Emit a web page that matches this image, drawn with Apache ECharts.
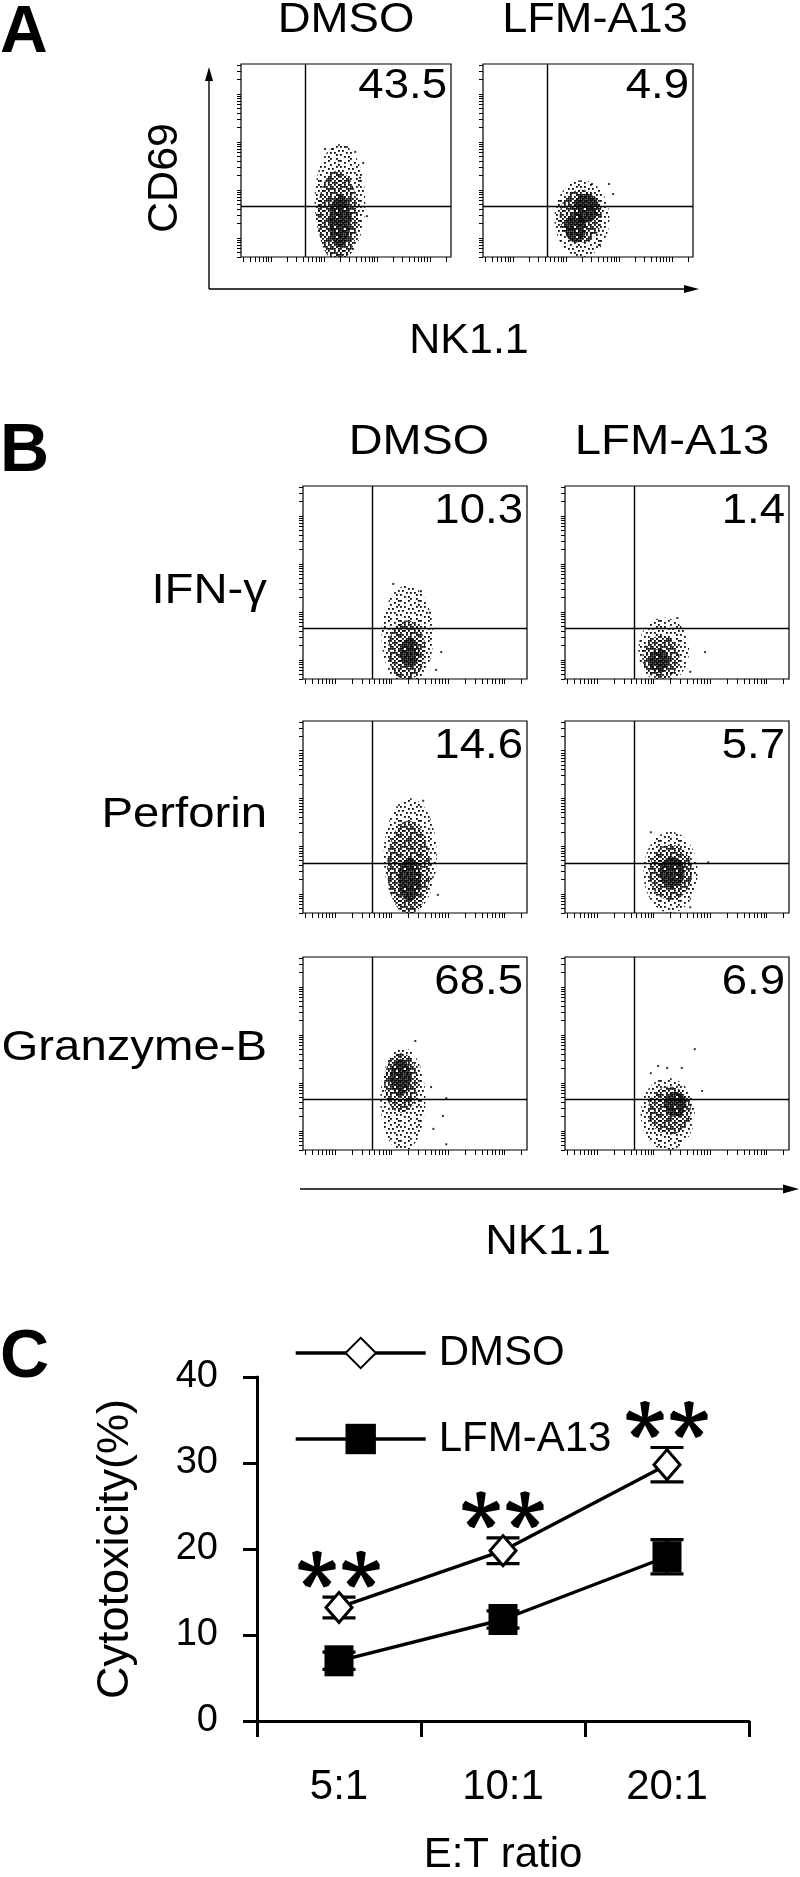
<!DOCTYPE html>
<html><head><meta charset="utf-8">
<script src="https://cdn.jsdelivr.net/npm/echarts@6/dist/echarts.min.js"></script>
<style>html,body{margin:0;padding:0;background:#fff}#c{width:800px;height:1877px}</style>
</head><body><div id="c"></div>
<script>
// ---------------- DATA ----------------
const groups = ['DMSO', 'LFM-A13'];
const markerA = 'CD69';
const rowLabels = ['IFN-γ', 'Perforin', 'Granzyme-B'];
const nkLabel = 'NK1.1';
const pctA = ['43.5', '4.9'];
const pctIFN = ['10.3', '1.4'];
const pctPerforin = ['14.6', '5.7'];
const pctGranzyme = ['68.5', '6.9'];
const gateX = 1.65, gateY = 1.65;          // quadrant gates (log10 units)
const logXRange = [0.43, 4.40];
const logYRange = [0.6, 4.62];
const decadeStarts = [0, 1, 2, 3, 4];
const minorMultipliers = [1, 2, 3, 4, 5, 6, 7, 8, 9];

// Event clouds: [centerX, centerY, spreadX, spreadY, densityLevel] (log10 units)
const cloudA_DMSO = [[2.30,1.75,0.48,1.20,0],[2.26,1.45,0.38,0.95,1],[2.30,1.35,0.20,0.55,2]];
const cloudA_LFM  = [[2.30,1.40,0.52,0.80,0],[2.28,1.45,0.40,0.55,1],[2.38,1.62,0.24,0.30,2],[2.18,1.20,0.20,0.30,2]];
const cloudIFN_DMSO = [[2.28,1.50,0.46,1.05,0],[2.27,1.20,0.33,0.62,1],[2.32,1.15,0.17,0.30,2]];
const cloudIFN_LFM  = [[2.18,1.20,0.45,0.68,0],[2.13,1.05,0.33,0.45,1],[2.10,0.98,0.17,0.25,2]];
const cloudPerf_DMSO = [[2.33,1.80,0.47,1.20,0],[2.30,1.55,0.38,0.98,1],[2.32,1.30,0.20,0.45,2]];
const cloudPerf_LFM  = [[2.30,1.45,0.48,0.85,0],[2.30,1.45,0.38,0.58,1],[2.33,1.45,0.22,0.33,2]];
const cloudGzm_DMSO = [[2.20,1.65,0.40,1.08,0],[2.17,2.00,0.30,0.62,1],[2.16,2.12,0.18,0.38,2]];
const cloudGzm_LFM  = [[2.25,1.35,0.48,0.75,0],[2.28,1.42,0.38,0.50,1],[2.38,1.55,0.20,0.26,2]];
// Scattered single events
const outA_DMSO = [[2.74,2.56],[2.81,1.45],[2.43,2.89],[2.02,2.85],[2.15,2.85],[2.59,2.79],[2.68,2.25]];
const outA_LFM  = [[2.81,2.12],[2.89,1.91],[2.64,0.85],[2.49,2.12]];
const outIFN_DMSO = [[2.52,2.43],[2.03,2.58],[2.88,1.16],[2.79,0.79],[2.68,1.98]];
const outIFN_LFM  = [[2.91,1.16],[2.42,1.87],[2.65,0.75]];
const outPerf_DMSO = [[2.56,2.95],[2.82,0.98],[2.73,1.35]];
const outPerf_LFM  = [[1.95,2.29],[2.97,1.66],[2.65,0.72]];
const outGzm_DMSO = [[2.42,2.87],[2.97,1.68],[2.91,1.31],[2.74,1.04],[2.97,0.72],[2.70,1.91]];
const outGzm_LFM  = [[2.73,2.70],[2.08,2.35],[2.24,2.31],[1.95,2.20],[2.50,2.31],[2.86,1.83]];

// Panel C
const etRatios = ['5:1', '10:1', '20:1'];
const dmsoMean = [13.2, 19.8, 29.8];
const dmsoErr  = [1.2, 1.5, 2.0];
const lfmMean  = [7.0, 11.8, 19.1];
const lfmErr   = [1.0, 1.0, 2.0];
const sigMarks = ['**', '**', '**'];

// ---------------- LAYOUT / STYLE ----------------
const FF = '"Liberation Sans", Arial, Helvetica, sans-serif';
const flowBoxes = [
  [241, 64, 210, 193], [483, 64, 210, 193],
  [303, 486, 224, 193], [565, 486, 224, 193],
  [303, 721, 224, 192], [565, 721, 224, 192],
  [303, 957, 224, 193], [565, 957, 224, 193]
];
const clouds = [cloudA_DMSO, cloudA_LFM, cloudIFN_DMSO, cloudIFN_LFM, cloudPerf_DMSO, cloudPerf_LFM, cloudGzm_DMSO, cloudGzm_LFM];
const outs = [outA_DMSO, outA_LFM, outIFN_DMSO, outIFN_LFM, outPerf_DMSO, outPerf_LFM, outGzm_DMSO, outGzm_LFM];
const pcts = [pctA[0], pctA[1], pctIFN[0], pctIFN[1], pctPerforin[0], pctPerforin[1], pctGranzyme[0], pctGranzyme[1]];

// stipple textures (dot masks)
const maskSparse = [
  "1...1....1","..1....1..",".....1...1","1.1.....1.","....1.1...",
  ".1.......1","...1.1.1..","1.......1.","..1.1.....",".....1..1."];
const maskMedium = [
  "1.11.1.1.1",".1..1.1.1.","1.1.1..1.1",".1.1.11.1.","1..1.1.1.1",
  ".11.1..1.1","1..1.11.1.",".1.1.1..11","1.1..1.1.1",".1.11.1.1."];
const maskDense = [
  "1111.11111","11.1111.11","1111.11111",".111111.11","11.1111111",
  "1111.111.1","111111.111","1.11111111","11111.11.1","111.111111"];
function makeTile(mask) {
  const cell = 2, n = mask.length;
  const cv = document.createElement('canvas');
  cv.width = cv.height = n * cell;
  const ctx = cv.getContext('2d');
  ctx.fillStyle = '#0a0a0a';
  mask.forEach((row, j) => { for (let i = 0; i < row.length; i++) if (row[i] === '1') ctx.fillRect(i * cell, j * cell, 1.8, 1.8); });
  return { image: cv, repeat: 'repeat' };
}
const patterns = [makeTile(maskSparse), makeTile(maskMedium), makeTile(maskDense)];

function logTicks(range) {
  const v = [];
  decadeStarts.forEach(d => minorMultipliers.forEach(m => {
    const t = d + Math.log10(m);
    if (t >= range[0] - 1e-9 && t <= range[1] + 1e-9) v.push(+t.toFixed(4));
  }));
  return v;
}

function blobRender(params, api) {
  const c = api.coord([api.value(0), api.value(1)]);
  const s = api.size([api.value(2), api.value(3)]);
  const lvl = api.value(4);
  const pts = [];
  const N = 60;
  for (let k = 0; k < N; k++) {
    const a = k / N * Math.PI * 2;
    pts.push([c[0] + s[0] * Math.cos(a), c[1] + s[1] * Math.sin(a)]);
  }
  return { type: 'polygon', shape: { points: pts }, style: { fill: patterns[lvl], stroke: null } };
}

// ---------------- BUILD ----------------
const grid = [], xAxis = [], yAxis = [], series = [], graphic = [];
flowBoxes.forEach((b, i) => {
  grid.push({ left: b[0], top: b[1], width: b[2], height: b[3], show: true, borderColor: '#000', borderWidth: 1.2, backgroundColor: 'transparent' });
  xAxis.push({ gridIndex: i, type: 'value', min: logXRange[0], max: logXRange[1],
    axisLine: { show: false }, splitLine: { show: false }, axisLabel: { show: false },
    axisTick: { show: true, customValues: logTicks(logXRange), length: 5, lineStyle: { color: '#000', width: 1 } } });
  yAxis.push({ gridIndex: i, type: 'value', min: logYRange[0], max: logYRange[1],
    axisLine: { show: false }, splitLine: { show: false }, axisLabel: { show: false },
    axisTick: { show: true, customValues: logTicks(logYRange), length: 4, lineStyle: { color: '#000', width: 1 } } });
  series.push({ type: 'custom', xAxisIndex: i, yAxisIndex: i, data: clouds[i], renderItem: blobRender, clip: true, silent: true, z: 2 });
  series.push({ type: 'scatter', xAxisIndex: i, yAxisIndex: i, data: outs[i], symbol: 'rect', symbolSize: 2, itemStyle: { color: '#000' }, silent: true, z: 3,
    markLine: { silent: true, symbol: 'none', label: { show: false }, lineStyle: { color: '#000', width: 1.4, type: 'solid' },
      data: [{ xAxis: gateX }, { yAxis: gateY }] } });
  graphic.push({ type: 'text', x: b[0] + b[2] - 4, y: b[1] + (i < 2 ? 22 : 25), scaleX: 1.06, silent: true,
    style: { text: pcts[i], fontSize: 43, fontFamily: FF, fill: '#000', align: 'right', verticalAlign: 'middle' } });
});

// Panel C
const gi = flowBoxes.length;
grid.push({ left: 257, top: 1377, width: 492, height: 352 });
xAxis.push({ gridIndex: gi, type: 'category', data: etRatios, boundaryGap: true,
  axisLine: { show: true, lineStyle: { color: '#000', width: 3 } },
  axisTick: { show: true, length: 16, lineStyle: { color: '#000', width: 3 } },
  axisLabel: { fontSize: 42, color: '#000', fontFamily: FF, margin: 45 },
  name: 'E:T ratio', nameLocation: 'middle', nameGap: 113,
  nameTextStyle: { fontSize: 42, color: '#000', fontFamily: FF } });
yAxis.push({ gridIndex: gi, type: 'value', min: 0, max: 40, interval: 10,
  axisLine: { show: true, lineStyle: { color: '#000', width: 3 } },
  axisTick: { show: true, length: 14, lineStyle: { color: '#000', width: 3 } },
  axisLabel: { fontSize: 38, color: '#000', fontFamily: FF, margin: 39 },
  splitLine: { show: false },
  name: 'Cytotoxicity(%)', nameLocation: 'middle', nameGap: 119,
  nameTextStyle: { fontSize: 45, color: '#000', fontFamily: FF } });

function errRender(params, api) {
  const i = api.value(0), m = api.value(1), e = api.value(2);
  const hi = api.coord([i, m + e]), lo = api.coord([i, m - e]);
  const w = 16.5, st = { stroke: '#000', lineWidth: 3.2 };
  return { type: 'group', children: [
    { type: 'line', shape: { x1: hi[0], y1: hi[1], x2: lo[0], y2: lo[1] }, style: st },
    { type: 'line', shape: { x1: hi[0] - w, y1: hi[1], x2: hi[0] + w, y2: hi[1] }, style: st },
    { type: 'line', shape: { x1: lo[0] - w, y1: lo[1], x2: lo[0] + w, y2: lo[1] }, style: st }
  ] };
}
function asterisk(cx, cy) {
  const arms = [-90, -18, -162, 54, 126];
  return arms.map(deg => {
    const a = deg * Math.PI / 180, dx = Math.cos(a), dy = Math.sin(a), px = -dy, py = dx;
    const L = 18;
    return { type: 'polygon', shape: { points: [
      [cx + px * 2.2, cy + py * 2.2],
      [cx + dx * L + px * 4.8, cy + dy * L + py * 4.8],
      [cx + dx * (L + 1.5), cy + dy * (L + 1.5)],
      [cx + dx * L - px * 4.8, cy + dy * L - py * 4.8],
      [cx - px * 2.2, cy - py * 2.2]] }, style: { fill: '#000' } };
  });
}
function sigRender(params, api) {
  const p = api.coord([api.value(0), api.value(1)]);
  const n = String(sigMarks[params.dataIndex]).length;
  const children = [];
  for (let k = 0; k < n; k++) {
    const cx = p[0] + (k - (n - 1) / 2) * 44;
    children.push(...asterisk(cx, p[1] - 27));
  }
  return { type: 'group', children };
}

series.push({ type: 'custom', xAxisIndex: gi, yAxisIndex: gi, renderItem: errRender, z: 2, silent: true,
  data: etRatios.map((c, i) => [i, dmsoMean[i], dmsoErr[i]]) });
series.push({ type: 'custom', xAxisIndex: gi, yAxisIndex: gi, renderItem: errRender, z: 2, silent: true,
  data: etRatios.map((c, i) => [i, lfmMean[i], lfmErr[i]]) });
series.push({ type: 'line', name: 'DMSO', xAxisIndex: gi, yAxisIndex: gi, data: dmsoMean, z: 3,
  symbol: 'diamond', symbolSize: [26, 30], lineStyle: { color: '#000', width: 3.4 },
  itemStyle: { color: '#fff', borderColor: '#000', borderWidth: 3 } });
series.push({ type: 'line', name: 'LFM-A13', xAxisIndex: gi, yAxisIndex: gi, data: lfmMean, z: 3,
  symbol: 'rect', symbolSize: [29, 31], lineStyle: { color: '#000', width: 3.4 },
  itemStyle: { color: '#000', borderColor: '#000', borderWidth: 0 } });
series.push({ type: 'custom', xAxisIndex: gi, yAxisIndex: gi, renderItem: sigRender, z: 4, silent: true,
  data: etRatios.map((c, i) => [i, dmsoMean[i] + dmsoErr[i]]) });

// texts
function T(text, x, y, size, o) {
  o = o || {};
  return { type: 'text', x, y, rotation: o.rot || 0, scaleX: o.sx || 1, silent: true,
    style: { text, fontSize: size, fontFamily: FF, fontWeight: o.bold ? 'bold' : 'normal', fill: '#000',
      align: o.align || 'center', verticalAlign: 'middle' } };
}
graphic.push(T('A', 0, 34, 66, { bold: true, align: 'left' }));
graphic.push(T('B', 0, 452, 68, { bold: true, align: 'left' }));
graphic.push(T('C', 0, 1358, 68, { bold: true, align: 'left' }));
graphic.push(T(groups[0], 346, 20, 43, { sx: 1.06 }));
graphic.push(T(groups[1], 595, 20, 43, { sx: 1.05 }));
graphic.push(T(groups[0], 419, 442, 43, { sx: 1.09 }));
graphic.push(T(groups[1], 672, 442, 43, { sx: 1.1 }));
graphic.push(T(markerA, 165, 178, 43, { rot: Math.PI / 2 }));
graphic.push(T(nkLabel, 469, 341, 43));
graphic.push(T(nkLabel, 548, 1242, 43, { sx: 1.05 }));
const rowY = [591, 815, 1048];
rowLabels.forEach((t, k) => graphic.push(T(t, 267, rowY[k], 43, { align: 'right', sx: 1.1 })));

// axis arrows of the dot plots
const ln = { stroke: '#000', lineWidth: 1.4 };
graphic.push({ type: 'line', silent: true, shape: { x1: 209, y1: 289, x2: 209, y2: 76 }, style: ln });
graphic.push({ type: 'polygon', silent: true, shape: { points: [[209, 67], [205, 81], [213, 81]] }, style: { fill: '#000' } });
graphic.push({ type: 'line', silent: true, shape: { x1: 209, y1: 289, x2: 688, y2: 289 }, style: ln });
graphic.push({ type: 'polygon', silent: true, shape: { points: [[699, 289], [684, 285], [684, 293]] }, style: { fill: '#000' } });
graphic.push({ type: 'line', silent: true, shape: { x1: 300, y1: 1189, x2: 788, y2: 1189 }, style: ln });
graphic.push({ type: 'polygon', silent: true, shape: { points: [[799, 1189], [783, 1184.5], [783, 1193.5]] }, style: { fill: '#000' } });

const chart = echarts.init(document.getElementById('c'), null, { renderer: 'canvas' });
chart.setOption({
  animation: false,
  backgroundColor: '#fff',
  textStyle: { fontFamily: FF },
  grid, xAxis, yAxis, series, graphic,
  legend: { data: ['DMSO', 'LFM-A13'], orient: 'vertical', left: 289, top: 1327, itemWidth: 130, itemHeight: 38, itemGap: 44,
    selectedMode: false, lineStyle: { width: 3.4, color: '#000' },
    textStyle: { fontSize: 42, color: '#000', fontFamily: FF, padding: [0, 0, 0, 8] } }
});
</script></body></html>
